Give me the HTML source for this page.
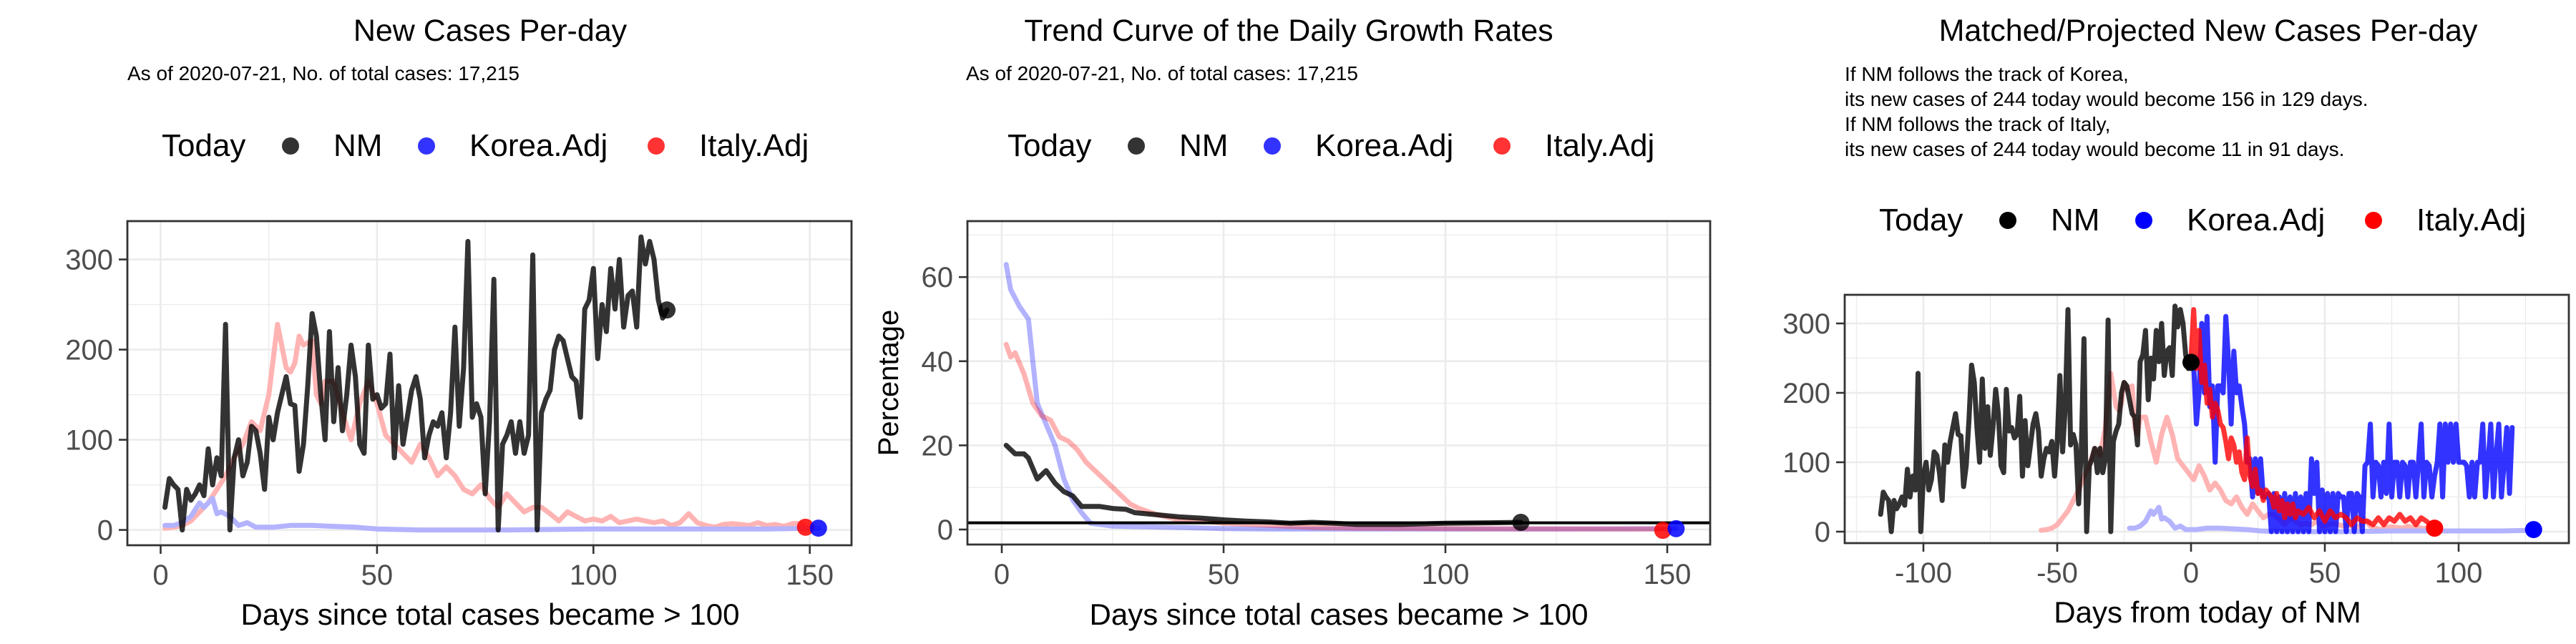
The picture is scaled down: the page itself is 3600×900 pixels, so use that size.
<!DOCTYPE html>
<html><head><meta charset="utf-8">
<style>
html,body{margin:0;padding:0;background:#fff;}
svg{display:block;font-family:"Liberation Sans",sans-serif;}
</style></head>
<body>
<svg id="chart" width="3600" height="900" viewBox="0 0 3600 900" xmlns="http://www.w3.org/2000/svg">
<rect width="3600" height="900" fill="#fff"/>
<text x="685" y="57" font-size="43" text-anchor="middle">New Cases Per-day</text>
<text x="178" y="112" font-size="28">As of 2020-07-21, No. of total cases: 17,215</text>
<text x="1801" y="57" font-size="43" text-anchor="middle">Trend Curve of the Daily Growth Rates</text>
<text x="1350" y="112" font-size="28">As of 2020-07-21, No. of total cases: 17,215</text>
<text x="3086" y="57" font-size="43" text-anchor="middle">Matched/Projected New Cases Per-day</text>
<g font-size="28">
<text x="2578" y="113">If NM follows the track of Korea,</text>
<text x="2578" y="148">its new cases of 244 today would become 156 in 129 days.</text>
<text x="2578" y="183">If NM follows the track of Italy,</text>
<text x="2578" y="218">its new cases of 244 today would become 11 in 91 days.</text>
</g>
<g font-size="44">
<text x="226" y="218">Today</text>
<circle cx="406" cy="204" r="12" fill="#333"/>
<text x="466" y="218">NM</text>
<circle cx="596" cy="204" r="12" fill="#3333ff"/>
<text x="656" y="218">Korea.Adj</text>
<circle cx="917" cy="204" r="12" fill="#ff3333"/>
<text x="977" y="218">Italy.Adj</text>
</g>
<g font-size="44">
<text x="1408" y="218">Today</text>
<circle cx="1588" cy="204" r="12" fill="#333"/>
<text x="1648" y="218">NM</text>
<circle cx="1778" cy="204" r="12" fill="#3333ff"/>
<text x="1838" y="218">Korea.Adj</text>
<circle cx="2099" cy="204" r="12" fill="#ff3333"/>
<text x="2159" y="218">Italy.Adj</text>
</g>
<g font-size="44">
<text x="2626" y="322">Today</text>
<circle cx="2806" cy="308" r="12" fill="#000"/>
<text x="2866" y="322">NM</text>
<circle cx="2996" cy="308" r="12" fill="#0000ff"/>
<text x="3056" y="322">Korea.Adj</text>
<circle cx="3317" cy="308" r="12" fill="#ff0000"/>
<text x="3377" y="322">Italy.Adj</text>
</g>
<text transform="translate(1255,535) rotate(-90)" font-size="40" text-anchor="middle">Percentage</text>
<text x="685" y="873" font-size="42" text-anchor="middle">Days since total cases became &gt; 100</text>
<text x="1871" y="873" font-size="42" text-anchor="middle">Days since total cases became &gt; 100</text>
<text x="3085" y="870" font-size="42" text-anchor="middle">Days from today of NM</text>
</svg>
<script>
const nmCases = [25,57,50,45,0,45,33,40,50,38,90,50,80,60,228,0,80,100,60,75,115,110,85,45,125,100,130,150,170,140,138,65,95,160,240,215,150,100,220,120,180,110,150,205,170,95,85,205,145,150,135,140,195,80,160,95,125,155,170,145,80,105,120,115,130,80,130,225,115,180,320,125,140,125,40,120,278,0,95,105,120,85,120,85,105,305,0,130,145,155,200,215,210,190,170,165,125,245,255,290,190,250,220,290,245,300,225,260,265,225,325,295,320,300,255,235,244];
const italyDays = [1,3,5,7,9,11,13,15,17,19,21,23,25,27,29,30,31,32,33,35,36,37,38,40,42,44,46,48,50,52,54,56,58,60,62,64,66,68,70,72,74,76,78,80,82,84,86,88,90,92,94,96,98,100,102,104,106,108,110,112,114,116,118,120,122,124,126,128,130,132,134,136,138,140,142,144,146,148,149];
const italyCases = [2,3,5,10,20,30,45,60,80,95,120,110,150,228,180,175,185,215,205,210,150,140,165,165,130,100,140,165,140,105,95,85,75,95,80,60,70,60,45,40,50,35,25,40,30,20,25,25,18,10,20,15,10,12,10,15,8,10,12,10,8,10,5,8,18,8,5,3,6,7,6,5,8,5,6,4,7,7,3];
const koreaDays = [1,3,5,7,9,10,12,13,14,16,18,20,22,26,30,35,40,45,50,60,80,100,120,140,152];
const koreaCases = [5,5,8,15,30,25,35,18,20,15,5,8,3,3,5,5,4,3,1,0,0,1,1,1,2];
const nmRateDays = [1,3,5,6,8,10,12,14,16,18,22,25,28,30,35,40,45,50,55,60,65,70,75,80,90,100,110,117];
const nmRate = [20,18,18,17,12,14,11,9,8,5.5,5.5,5,4.8,4,3.5,3,2.7,2.3,2,1.8,1.5,1.7,1.5,1.2,1.2,1.5,1.6,1.7];
const koreaRateDays = [1,2,4,6,8,10,12,14,16,18,20,25,30,40,50,60,80,100,120,152];
const koreaRate = [63,57,53,50,30,25,20,12,7,4,1.5,0.8,0.7,0.5,0.2,0.1,0.1,0.1,0.1,0.2];
const italyRateDays = [1,2,3,5,7,9,11,13,15,17,19,21,23,25,27,29,31,35,40,45,50,60,70,80,100,149];
const italyRate = [44,41,42,37,30,27,26,22,21,19,16,14,12,10,8,6,5,3.5,2.3,2,1.5,1,0.5,0.3,0.2,0.1];
const referenceRate = 1.6;
const italyProjDays = [0,1,2,3,4,5,6,7,8,9,10,11,12,13,14,15,16,17,18,19,20,21,22,23,24,25,26,27,28,29,30,31,32,33,34,35,36,37,38,39,40,42,44,46,48,50,52,54,56,58,60,62,64,66,68,70,72,74,76,78,80,82,84,86,88,90,91];
const italyProj = [250,320,235,290,215,240,185,205,165,185,175,155,150,130,105,135,125,100,115,85,75,135,80,65,90,55,60,45,60,55,50,35,55,30,45,20,40,25,40,20,30,25,35,20,30,15,30,20,25,20,10,20,15,15,10,20,10,20,15,25,15,20,10,20,15,8,11];
const koreaProj = [244,240,155,200,300,200,310,180,210,100,210,210,200,310,245,155,260,200,210,180,155,100,105,50,105,55,105,50,50,55,0,55,0,50,0,55,0,50,0,55,0,50,0,55,0,105,55,100,0,60,0,55,0,55,0,55,50,50,0,55,55,0,55,50,0,95,100,155,50,100,95,50,100,55,155,50,100,100,50,100,95,50,100,100,50,100,155,50,100,95,50,80,100,155,50,155,100,155,100,155,100,100,100,95,50,100,50,100,100,155,50,100,155,50,110,155,50,100,150,55,150];
const nmShift = -117, italyShift = -57, koreaShift = -24;
const p1XTicks = [0,50,100,150], p1YTicks = [0,100,200,300];
const p2XTicks = [0,50,100,150], p2YTicks = [0,20,40,60];
const p3XTicks = [-100,-50,0,50,100], p3YTicks = [0,100,200,300];

const NS = "http://www.w3.org/2000/svg";
const svg = document.getElementById('chart');
function mk(tag, attrs, parent){const e=document.createElementNS(NS,tag);for(const k in attrs)e.setAttribute(k,attrs[k]);(parent||svg).appendChild(e);return e;}
function mkAxis(x0,kx,y0,ky){return {x:v=>x0+v*kx,y:v=>y0-v*ky};}

const panels = [
 {id:'panel1', box:[178,309,1190,762], ax:mkAxis(224.5,6.048,740.6,1.26), xt:p1XTicks, yt:p1YTicks, xStep:25, yStep:50},
 {id:'panel2', box:[1352,309,2390,761], ax:mkAxis(1400,6.2,740,5.88), xt:p2XTicks, yt:p2YTicks, xStep:25, yStep:10},
 {id:'panel3', box:[2578,412,3590,759], ax:mkAxis(3062,3.74,743,0.97), xt:p3XTicks, yt:p3YTicks, xStep:25, yStep:50}
];

function frame(p){
  const [l,t,r,b]=p.box, a=p.ax;
  const g=mk('g',{});
  
  
  const xMin=Math.ceil(((l-a.x(0))/(a.x(1)-a.x(0)))/p.xStep)*p.xStep;
  for(let v=xMin; a.x(v)<r; v+=p.xStep){ const major=(v%(p.xStep*2)===0);
    mk('line',{x1:a.x(v),x2:a.x(v),y1:t,y2:b,stroke:'#ebebeb','stroke-width':major?2.6:1.3},g);}
  for(let v=0; a.y(v)>t; v+=p.yStep){ const major=(v%(p.yStep*2)===0);
    mk('line',{x1:l,x2:r,y1:a.y(v),y2:a.y(v),stroke:'#ebebeb','stroke-width':major?2.6:1.3},g);}
  p.xt.forEach(v=>{
    const tk=mk('line',{x1:a.x(v),x2:a.x(v),y1:b,y2:b+12,stroke:'#333','stroke-width':2.6});
    
    
    const tx=mk('text',{x:a.x(v),y:b+55,'font-size':40,fill:'#4d4d4d','text-anchor':'middle'});
    tx.textContent=v;
    
    
  });
  p.yt.forEach(v=>{
    const tk=mk('line',{x1:l-12,x2:l,y1:a.y(v),y2:a.y(v),stroke:'#333','stroke-width':2.6});
    
    
    const tx=mk('text',{x:l-20,y:a.y(v)+14,'font-size':40,fill:'#4d4d4d','text-anchor':'end'});
    tx.textContent=v;
    
    
  });
}
function border(p){
  const [l,t,r,b]=p.box;
  const e=mk('rect',{x:l,y:t,width:r-l,height:b-t,fill:'none',stroke:'#333','stroke-width':2.8});
  
  
}
function line(p,xs,ys,color,name,w){
  const a=p.ax;
  const d=xs.map((x,i)=>(i?'L':'M')+a.x(x).toFixed(1)+','+a.y(ys[i]).toFixed(1)).join('');
  const e=mk('path',{d:d,fill:'none',stroke:color,'stroke-width':w||7,'stroke-linejoin':'round','stroke-linecap':'round'});
  
  
}
function pt(p,x,y,color,name){
  const e=mk('circle',{cx:p.ax.x(x),cy:p.ax.y(y),r:12,fill:color});
  
  
}
const nmDays = nmCases.map((_,i)=>i+1);

const P1=panels[0]; frame(P1);
line(P1,italyDays,italyCases,'#ffb3b3','p1-italy-line');
line(P1,koreaDays,koreaCases,'#b3b3ff','p1-korea-line');
line(P1,nmDays,nmCases,'rgba(0,0,0,0.8)','p1-nm-line');
pt(P1,nmDays[nmDays.length-1],nmCases[nmCases.length-1],'rgba(0,0,0,0.8)','p1-nm-today-point');
pt(P1,italyDays[italyDays.length-1],italyCases[italyCases.length-1],'rgba(255,0,0,0.85)','p1-italy-today-point');
pt(P1,koreaDays[koreaDays.length-1],koreaCases[koreaCases.length-1],'rgba(0,0,255,0.85)','p1-korea-today-point');
border(P1);

const P2=panels[1]; frame(P2);
line(P2,koreaRateDays,koreaRate,'rgba(0,0,255,0.3)','p2-korea-line');
line(P2,italyRateDays,italyRate,'rgba(255,0,0,0.3)','p2-italy-line');
line(P2,nmRateDays,nmRate,'rgba(0,0,0,0.8)','p2-nm-line');
(function(){const e=mk('line',{x1:P2.box[0],x2:P2.box[2],y1:P2.ax.y(referenceRate),y2:P2.ax.y(referenceRate),stroke:'#000','stroke-width':4});

})();
pt(P2,nmRateDays[nmRateDays.length-1],nmRate[nmRate.length-1],'rgba(0,0,0,0.8)','p2-nm-today-point');
pt(P2,italyRateDays[italyRateDays.length-1],italyRate[italyRate.length-1]-0.3,'rgba(255,0,0,0.85)','p2-italy-today-point');
pt(P2,koreaRateDays[koreaRateDays.length-1],koreaRate[koreaRate.length-1],'rgba(0,0,255,0.85)','p2-korea-today-point');
border(P2);

const P3=panels[2]; frame(P3);
line(P3,italyDays.map(d=>d+italyShift),italyCases,'#ffb3b3','p3-italy-history-line');
line(P3,koreaDays.map(d=>d+koreaShift),koreaCases,'#b3b3ff','p3-korea-history-line');
line(P3,nmDays.map(d=>d+nmShift),nmCases,'rgba(0,0,0,0.8)','p3-nm-line');
line(P3,koreaProj.map((_,i)=>i),koreaProj,'rgba(0,0,255,0.8)','p3-korea-projection-line');
line(P3,italyProjDays,italyProj,'rgba(255,0,0,0.8)','p3-italy-projection-line');
pt(P3,0,nmCases[nmCases.length-1],'#000','p3-nm-today-point');
pt(P3,italyProjDays[italyProjDays.length-1],5,'#ff0000','p3-italy-end-point');
pt(P3,koreaDays[koreaDays.length-1]+koreaShift,3,'#0000ff','p3-korea-end-point');
border(P3);
</script>
</body></html>
